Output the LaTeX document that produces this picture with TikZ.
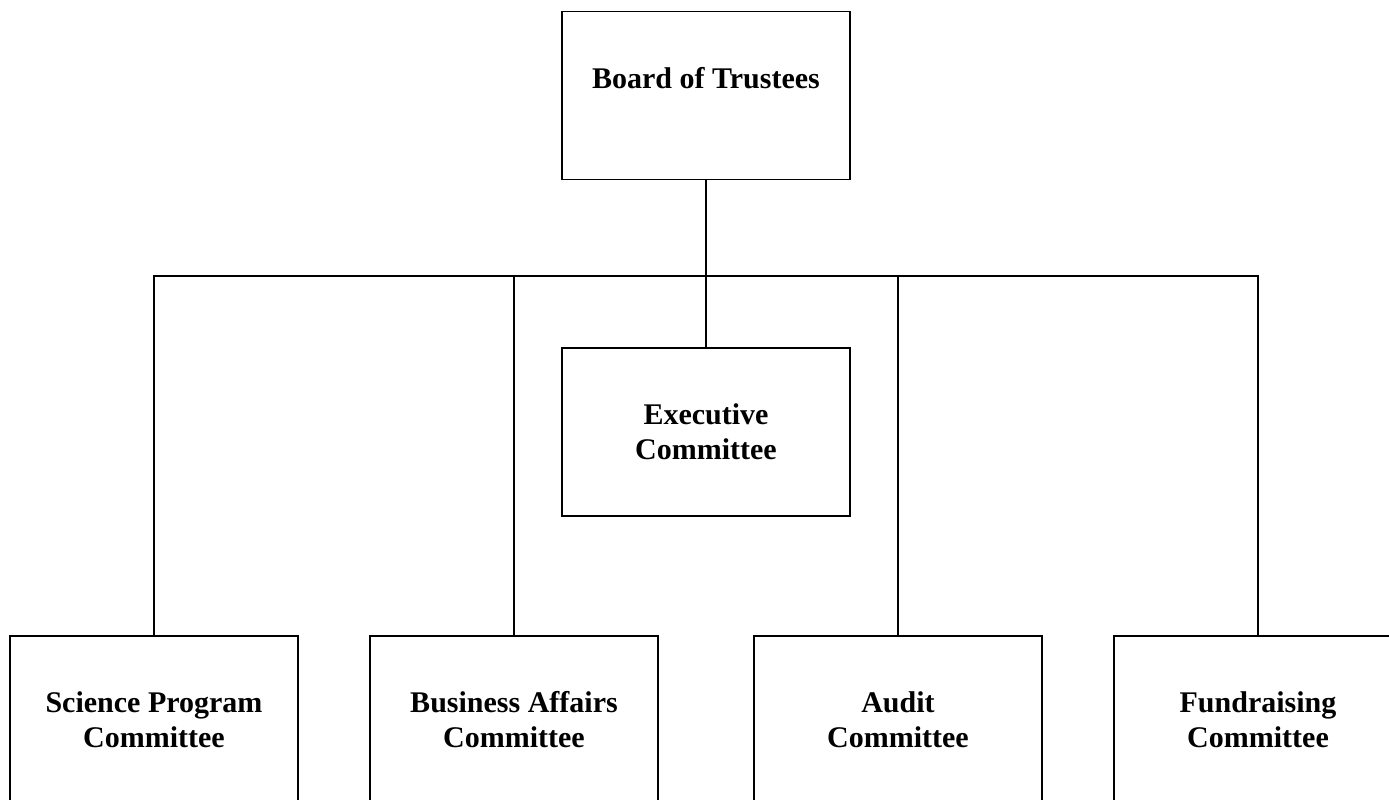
\documentclass[tikz,border=0pt]{standalone}
\usepackage{fontspec}
\setmainfont{Liberation Serif}
\tikzset{
  cbox/.style={draw, line width=1.8pt, minimum width=288pt, minimum height=168pt, inner sep=0pt, align=center, font=\fontsize{30}{35}\selectfont\bfseries},
  link/.style={line width=1.8pt}
}
\begin{document}
\begin{tikzpicture}[x=1pt,y=1pt]

\clip (0,0) rectangle (1389,800);

\node [cbox] (board) at (706,704.5) {Board of Trustees\\~};
\node [cbox] (exec) at (706,368) {Executive\\Committee};

\node [cbox] (sci) at (154,80) {Science Program\\Committee};
\node [cbox] (busaff) at (514,80) {Business Affairs\\Committee};
\node [cbox] (audit) at (898,80) {Audit\\Committee};
\node [cbox] (fund) at (1258,80) {Fundraising\\Committee};

\coordinate (bus) at (706,524);

\draw [link] (board) -- (exec);
\draw [link] (sci.north) |- (bus);
\draw [link] (busaff.north) |- (bus);
\draw [link] (audit.north) |- (bus);
\draw [link] (fund.north) |- (bus);
\end{tikzpicture}
\end{document}
